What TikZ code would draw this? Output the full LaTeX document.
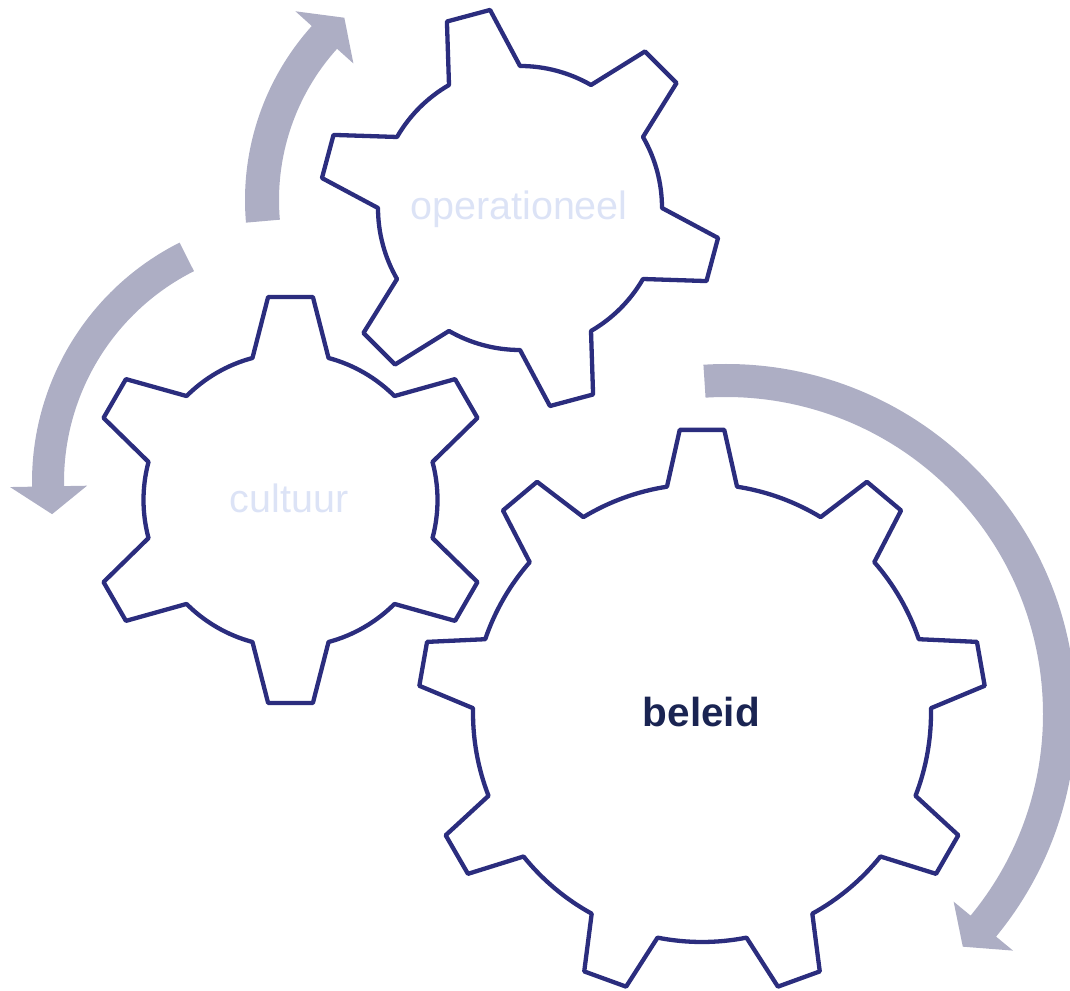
\documentclass[tikz,border=0pt]{standalone}
\usepackage{fontspec}
\setmainfont{Liberation Sans}
\usetikzlibrary{calc}

\definecolor{gearblue}{HTML}{2B2D7E}
\definecolor{arrowgray}{HTML}{ADAEC4}
\definecolor{palelabel}{HTML}{DCE3F6}
\definecolor{darklabel}{HTML}{1A2452}

\begin{document}
\begin{tikzpicture}[x=1pt,y=1pt,
 gearline/.style={draw=gearblue,line width=4.3pt,line join=round},
 turnarrow/.style={fill=arrowgray},
 palename/.style={text=palelabel,font=\fontsize{39.5}{46}\selectfont,inner sep=0pt,anchor=base},
 boldname/.style={text=darklabel,font=\fontsize{40.5}{47}\selectfont\bfseries,inner sep=0pt,anchor=base}]
 \useasboundingbox (0,0) rectangle (1070,990);
 \coordinate (gOp) at (520,782);
 \coordinate (gCu) at (290.5,490);
 \coordinate (gBe) at (702,277);
 \coordinate (upTurn) at (505,790);
 \coordinate (leftTurn) at (300,508);
 \coordinate (rightTurn) at (726,276);
 \fill[turnarrow,shift={(upTurn)}] (185:260) arc[start angle=185,end angle=138,radius=260] -- (138:282) -- (131.4:243) -- (138:204) -- (138:226) arc[start angle=138,end angle=185,radius=226] -- cycle;
 \fill[turnarrow,shift={(leftTurn)}] (116.7:268) arc[start angle=116.7,end angle=181,radius=268] -- (181:290) -- (187.4:250) -- (181:213) -- (181:236) arc[start angle=181,end angle=116.7,radius=236] -- cycle;
 \fill[turnarrow,shift={(rightTurn)}] (93.7:350) arc[start angle=93.7,end angle=-39.5,radius=350] -- (-39.5:372) -- (-44.5:332) -- (-39.5:295) -- (-39.5:317) arc[start angle=-39.5,end angle=93.7,radius=317] -- cycle;
 \draw[gearline,shift={(gOp)}] (30:142) \foreach \k in {0,...,5} { -- ({45+60*\k-15}:142) -- ({45+60*\k-6.4}:200.3) -- ({45+60*\k+6.4}:200.3) -- ({45+60*\k+15}:142) arc[start angle={45+60*\k+15},end angle={105+60*\k-15},radius=142] } -- cycle;
 \draw[gearline,shift={(gCu)}] (75:147) \foreach \k in {0,...,5} { -- ({90+60*\k-15}:147) -- ({90+60*\k-6.3}:204.2) -- ({90+60*\k+6.3}:204.2) -- ({90+60*\k+15}:147) arc[start angle={90+60*\k+15},end angle={150+60*\k-15},radius=147] } -- cycle;
 \draw[gearline,shift={(gBe)}] (81.2:229) \foreach \k in {0,...,8} { -- ({90+40*\k-8.8}:229) -- ({90+40*\k-4.5}:284) -- ({90+40*\k+4.5}:284) -- ({90+40*\k+8.8}:229) arc[start angle={90+40*\k+8.8},end angle={130+40*\k-8.8},radius=229] } -- cycle;
 \node[palename] (operationeel) at (519,770) {operationeel};
 \node[palename] (cultuur) at (289,477) {cultuur};
 \node[boldname] (beleid) at (701.3,263) {beleid};
\end{tikzpicture}
\end{document}
